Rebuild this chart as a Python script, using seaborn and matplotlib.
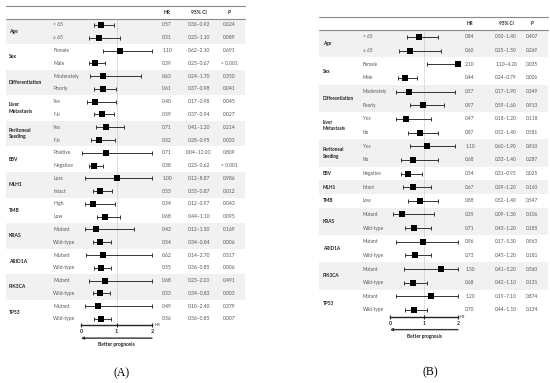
import numpy as np
import matplotlib
matplotlib.use("Agg")
import matplotlib.pyplot as plt
import matplotlib.transforms as mtransforms
import seaborn as sns
import pandas as pd

# ---------------- data ----------------
a_groups = ["Age", "Age", "Sex", "Sex", "Differentiation", "Differentiation",
            "Liver\nMetastasis", "Liver\nMetastasis", "Peritoneal\nSeeding", "Peritoneal\nSeeding",
            "EBV", "EBV", "MLH1", "MLH1", "TMB", "TMB", "KRAS", "KRAS",
            "ARID1A", "ARID1A", "PIK3CA", "PIK3CA", "TP53", "TP53"]
a_subs = ["< 65", "\u2265 65", "Female", "Male", "Moderately", "Poorly", "Yes", "No", "Yes", "No",
          "Positive", "Negative", "Loss", "Intact", "High", "Low", "Mutant", "Wild-type",
          "Mutant", "Wild-type", "Mutant", "Wild-type", "Mutant", "Wild-type"]
a_hr = [0.57, 0.51, 1.10, 0.39, 0.63, 0.61, 0.40, 0.59, 0.71, 0.52, 0.71, 0.38,
        1.00, 0.53, 0.34, 0.68, 0.42, 0.54, 0.62, 0.55, 0.68, 0.53, 0.49, 0.56]
a_lo = [0.36, 0.23, 0.62, 0.23, 0.24, 0.37, 0.17, 0.37, 0.41, 0.28, 0.04, 0.23,
        0.12, 0.33, 0.12, 0.44, 0.12, 0.34, 0.14, 0.36, 0.23, 0.34, 0.10, 0.36]
a_hi = [0.92, 1.10, 2.10, 0.67, 1.70, 0.98, 0.98, 0.94, 1.20, 0.95, 12.00, 0.62,
        8.87, 0.87, 0.97, 1.10, 1.50, 0.84, 2.70, 0.85, 2.00, 0.83, 2.40, 0.85]
a_p = ["0.024", "0.089", "0.691", "< 0.001", "0.350", "0.041", "0.045", "0.027", "0.214", "0.033",
       "0.809", "< 0.001", "0.986", "0.012", "0.043", "0.095", "0.169", "0.006", "0.517", "0.006",
       "0.491", "0.003", "0.379", "0.007"]

b_groups = ["Age", "Age", "Sex", "Sex", "Differentiation", "Differentiation",
            "Liver\nMetastasis", "Liver\nMetastasis", "Peritoneal\nSeeding", "Peritoneal\nSeeding",
            "EBV", "MLH1", "TMB", "KRAS", "KRAS", "ARID1A", "ARID1A", "PIK3CA", "PIK3CA", "TP53", "TP53"]
b_subs = ["< 65", "\u2265 65", "Female", "Male", "Moderately", "Poorly", "Yes", "No", "Yes", "No",
          "Negative", "Intact", "Low", "Mutant", "Wild-type", "Mutant", "Wild-type",
          "Mutant", "Wild-type", "Mutant", "Wild-type"]
b_hr = [0.84, 0.60, 2.10, 0.44, 0.57, 0.97, 0.47, 0.87, 1.10, 0.68, 0.54, 0.67, 0.88,
        0.35, 0.71, 0.96, 0.73, 1.50, 0.68, 1.20, 0.70]
b_lo = [0.50, 0.25, 1.10, 0.24, 0.17, 0.59, 0.18, 0.52, 0.60, 0.33, 0.31, 0.39, 0.52,
        0.09, 0.43, 0.17, 0.45, 0.41, 0.42, 0.19, 0.44]
b_hi = [1.40, 1.50, 4.20, 0.79, 1.90, 1.60, 1.20, 1.40, 1.90, 1.40, 0.93, 1.20, 1.40,
        1.30, 1.20, 5.30, 1.20, 5.20, 1.10, 7.10, 1.10]
b_p = ["0.407", "0.269", "0.035", "0.006", "0.349", "0.913", "0.118", "0.581", "0.810", "0.287",
       "0.025", "0.160", "0.547", "0.106", "0.185", "0.963", "0.181", "0.560", "0.131", "0.874", "0.134"]

axis_ticks = [0, 1, 2]

# ---------------- style ----------------
sns.set_style("white")
plt.rcParams["font.family"] = ["Lato", "DejaVu Sans"]

W, H = 550, 383
fig = plt.figure(figsize=(W / 100, H / 100), dpi=100)


def px_axes(x0, y0, x1, y1):
    return fig.add_axes([x0 / W, 1 - y1 / H, (x1 - x0) / W, (y1 - y0) / H])


SHADE = "#f1f1f1"
TXT = "#555555"
DARK = "#222222"


def panel(groups, subs, hr, lo, hi, pv, bg_box, fo_box, cols, label, label_xy, FS):
    n = len(subs)
    bx0, by0, bx1, by1 = bg_box
    bg = px_axes(*bg_box)
    bg.set_xlim(bx0, bx1)
    bg.set_ylim(n - 0.5, -1.5)
    bg.axis("off")

    # group blocks
    order = []
    for g in groups:
        if g not in order:
            order.append(g)
    for gi, g in enumerate(order):
        idx = [i for i, gg in enumerate(groups) if gg == g]
        if gi % 2 == 0:
            bg.axhspan(min(idx) - 0.5, max(idx) + 0.5, color=SHADE, lw=0, zorder=0)
        bg.text(cols["grp"], np.mean(idx), g, fontsize=FS, fontweight="bold",
                color=DARK, va="center", ha="left", linespacing=1.3)
    bg.plot([bx0, bx1], [-1.5, -1.5], color="#8a8a8a", lw=0.8, clip_on=False)
    bg.plot([bx0, bx1], [-0.5, -0.5], color="#8a8a8a", lw=0.8, clip_on=False)

    bg.text(cols["hr"], -1, "HR", fontsize=FS, fontweight="bold", color=DARK, ha="center", va="center")
    bg.text(cols["ci"], -1, "95% CI", fontsize=FS, fontweight="bold", color=DARK, ha="center", va="center")
    bg.text(cols["p"], -1, "P", fontsize=FS, fontweight="bold", fontstyle="italic", color=DARK,
            ha="center", va="center")
    for i in range(n):
        bg.text(cols["sub"], i, subs[i], fontsize=FS, color=TXT, ha="left", va="center")
        bg.text(cols["hr"], i, f"{hr[i]:.2f}", fontsize=FS, color=TXT, ha="center", va="center")
        bg.text(cols["ci"], i, f"{lo[i]:.2f}\u2013{hi[i]:.2f}", fontsize=FS, color=TXT,
                ha="center", va="center")
        bg.text(cols["p"], i, pv[i], fontsize=FS, color=TXT, ha="center", va="center")

    # forest
    fo = px_axes(*fo_box)
    fo.patch.set_alpha(0)
    df = pd.DataFrame({"row": np.arange(n), "hr": np.clip(hr, 0, 2),
                       "lo": np.clip(lo, 0, 2), "hi": np.clip(hi, 0, 2)})
    fo.axvline(1, color="#b5b5b5", lw=0.6, ls=(0, (1, 1)), zorder=0)
    fo.errorbar(df["hr"], df["row"], xerr=[df["hr"] - df["lo"], df["hi"] - df["hr"]],
                fmt="none", ecolor="#333333", elinewidth=0.7, capsize=1.4, capthick=0.7,
                clip_on=False, zorder=2)
    sns.scatterplot(data=df, x="hr", y="row", marker="s", s=14, color="black",
                    edgecolor="black", linewidth=0, ax=fo, zorder=3, clip_on=False, legend=False)
    fo.set_xlim(0, 2)
    fo.set_ylim(n - 0.5, -0.5)
    fo.set_xlabel("")
    fo.set_ylabel("")
    fo.set_yticks([])
    fo.set_xticks(axis_ticks)
    fo.set_xticklabels([str(t) for t in axis_ticks])
    for s in ["top", "left", "right"]:
        fo.spines[s].set_visible(False)
    fo.spines["bottom"].set_color(DARK)
    fo.spines["bottom"].set_linewidth(1.0)
    fo.tick_params(axis="x", direction="inout", length=3, width=0.8, color=DARK,
                   labelsize=FS + 0.4, pad=1.5, labelcolor=DARK, bottom=True)
    for t in fo.get_xticklabels():
        t.set_fontweight("bold")
    fo.text(1.03, 0, "HR", transform=fo.transAxes, fontsize=FS - 0.6, color=DARK,
            va="center", ha="left")

    trans = mtransforms.blended_transform_factory(fo.transData, fo.transAxes)
    tr_arrow = mtransforms.offset_copy(trans, fig=fig, y=-12.8 * 0.72, units="points")
    fo.annotate("", xy=(0, 0), xycoords=tr_arrow, xytext=(2, 0), textcoords=tr_arrow,
                arrowprops=dict(arrowstyle="-|>", lw=1.0, color="#333333", mutation_scale=3.5,
                                shrinkA=0, shrinkB=0), annotation_clip=False)
    tr_txt = mtransforms.offset_copy(trans, fig=fig, y=-19.5 * 0.72, units="points")
    fo.text(1, 0, "Better prognosis", transform=tr_txt, fontsize=FS, fontweight="bold",
            color=DARK, ha="center", va="center")

    fig.text(label_xy[0] / W, 1 - label_xy[1] / H, label, fontsize=8.5,
             family=["Liberation Serif", "DejaVu Serif"], ha="center", va="center", color="black")


# panel A
ya0 = 25.0
sa = 12.78
panel(a_groups, a_subs, a_hr, a_lo, a_hi, a_p,
      bg_box=(6, ya0 - 1.5 * sa, 245, ya0 + 23.5 * sa),
      fo_box=(81, ya0 - 0.5 * sa, 152, ya0 + 23.5 * sa),
      cols=dict(grp=9, sub=53, hr=167, ci=199, p=229), label="(A)", label_xy=(122, 373), FS=3.6)

# panel B
yb0 = 37.0
sb = 13.65
panel(b_groups, b_subs, b_hr, b_lo, b_hi, b_p,
      bg_box=(319, yb0 - 1.5 * sb, 548, yb0 + 20.5 * sb),
      fo_box=(390, yb0 - 0.5 * sb, 458, yb0 + 20.5 * sb),
      cols=dict(grp=323, sub=363, hr=470, ci=506, p=532), label="(B)", label_xy=(430, 372), FS=3.4)

fig.savefig("out.png", dpi=100, facecolor="white")
